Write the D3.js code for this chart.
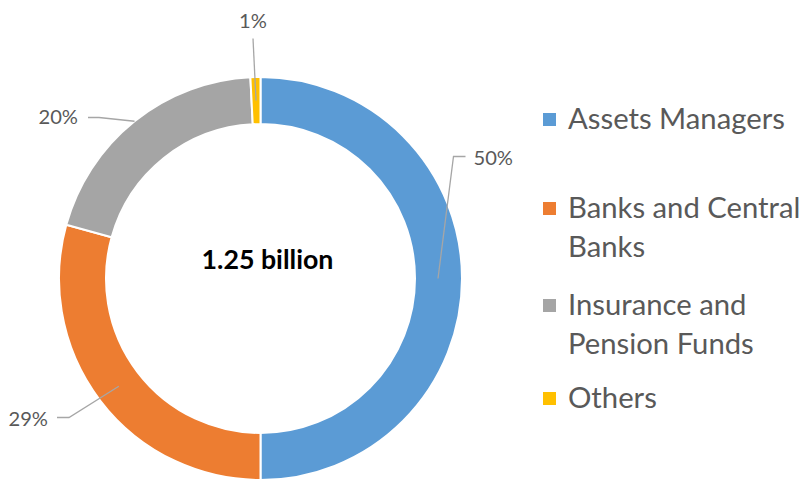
<!DOCTYPE html>
<html><head><meta charset="utf-8">
<script src="https://cdn.jsdelivr.net/npm/d3@7"></script>
<style>html,body{margin:0;padding:0;background:#fff;}svg{display:block;}</style>
</head><body>
<svg id="chart" width="804" height="480"></svg>
<script>
const categories = ["Assets Managers", "Banks and Central Banks", "Insurance and Pension Funds", "Others"];
const values = [50, 29.3, 19.9, 0.8];
const valueLabels = ["50%", "29%", "20%", "1%"];
const legendLines = [["Assets Managers"], ["Banks and Central", "Banks"], ["Insurance and", "Pension Funds"], ["Others"]];
const colors = ["#5B9BD5", "#ED7D31", "#A5A5A5", "#FFC000"];
const centerText = "1.25 billion";

const W = 804, H = 480;
const cx = 260.5, cy = 278.5, rOuter = 201.5, rInner = 154.5;
const FONT = "Lato, 'Open Sans', sans-serif";

const svg = d3.select("#chart");
const ctx = document.createElement("canvas").getContext("2d");
function fit(text, target, weight) {
  ctx.font = `${weight} 100px Lato`;
  return 100 * target / ctx.measureText(text).width;
}

const pie = d3.pie().sort(null).value(d => d)(values);
const arc = d3.arc().innerRadius(rInner).outerRadius(rOuter);
const g = svg.append("g").attr("transform", `translate(${cx},${cy})`);
g.selectAll("path.slice").data(pie).join("path").attr("class", "slice")
  .attr("d", arc).attr("fill", (d, i) => colors[i])
  .attr("stroke", "#fff").attr("stroke-width", 2);

// center text
const cs = fit(centerText, 132, "bold");
svg.append("text").attr("x", cx + 7).attr("y", cy - 9.5)
  .attr("text-anchor", "middle").attr("font-family", FONT).attr("font-weight", "bold")
  .attr("font-size", cs).attr("fill", "#000").text(centerText);

// data labels with leader lines (elbow points relative to the centre)
const labelSize = fit("50%", 39.5, "normal");
const layout = [
  {r: 177.5, pts: [[205, -122], [193, -122]], tx: 213, ty: -114, anchor: "start"},
  {r: 178, pts: [[-203.5, 139], [-191.5, 139]], tx: -212.5, ty: 147.5, anchor: "end"},
  {r: 201.5, pts: [[-172.5, -161], [-161.5, -161]], tx: -182.5, ty: -154.5, anchor: "end"},
  {r: 178, pts: [[-7.5, -240]], tx: -7.5, ty: -250.5, anchor: "middle"}
];
pie.forEach((d, i) => {
  const a = (d.startAngle + d.endAngle) / 2;
  const L = layout[i];
  const p0 = [Math.sin(a) * L.r, -Math.cos(a) * L.r];
  g.append("path").attr("d", d3.line()([...L.pts, p0]))
    .attr("fill", "none").attr("stroke", "#A6A6A6").attr("stroke-width", 1.3);
  g.append("text").attr("x", L.tx).attr("y", L.ty).attr("text-anchor", L.anchor)
    .attr("font-family", FONT).attr("font-size", labelSize).attr("fill", "#595959")
    .text(valueLabels[i]);
});

// legend
const legSize = fit("Assets Managers", 217, "normal");
const legendY = [129, 218, 315, 408];
const lineGap = 39;
const leg = svg.append("g");
legendLines.forEach((lines, i) => {
  leg.append("rect").attr("x", 543).attr("y", legendY[i] - 16).attr("width", 13).attr("height", 13)
    .attr("fill", colors[i]);
  const t = leg.append("text").attr("font-family", FONT).attr("font-size", legSize).attr("fill", "#595959");
  lines.forEach((ln, j) => t.append("tspan").attr("x", 568).attr("y", legendY[i] + j * lineGap).text(ln));
});
</script>
</body></html>
